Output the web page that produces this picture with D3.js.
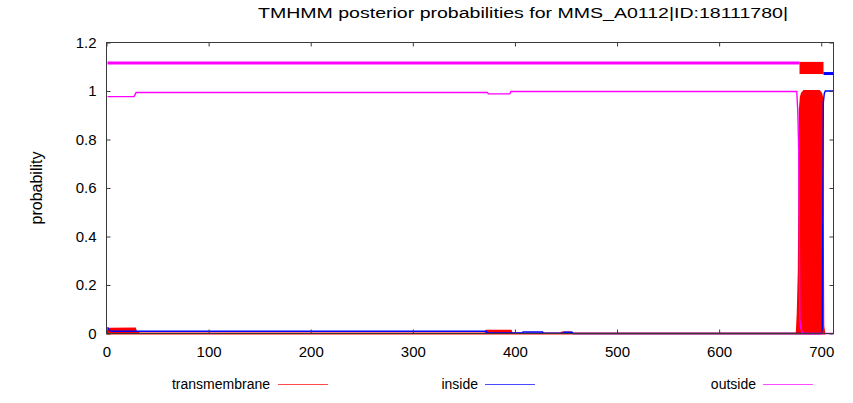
<!DOCTYPE html>
<html>
<head>
<meta charset="utf-8">
<script src="https://cdn.jsdelivr.net/npm/d3@7"></script>
<style>
  html, body { margin: 0; padding: 0; background: #fff; }
  svg { display: block; }
  text { font-family: "Liberation Sans", Arial, sans-serif; fill: #000; }
</style>
</head>
<body>
<svg id="chart" width="853" height="403"></svg>
<script>
// Posterior probabilities per residue, as [residue, probability] breakpoints
const transmembrane = [
  [1, 0], [2, 0.02], [28, 0.021], [29, 0.006], [31, 0.004], [32, 0],
  [371, 0], [372, 0.011], [396, 0.011], [397, 0],
  [445, 0], [446, 0.004], [455, 0.004], [456, 0],
  [676, 0], [677, 0.085], [678, 0.26], [679, 0.92], [680, 0.975], [681, 0.99],
  [683, 1.0], [698, 1.0], [700, 0.99], [701, 0.97], [702, 0.03], [703, 0]
];
const inside = [
  [1, 0.025], [3, 0.012], [5, 0.009], [372, 0.009], [373, 0.002],
  [407, 0.002], [408, 0.006], [427, 0.006], [428, 0.001],
  [447, 0.001], [448, 0.005], [456, 0.005], [457, 0],
  [700, 0], [701, 0.02], [702, 0.95], [703, 0.99], [704, 1.0], [712, 1.0]
];
const outside = [
  [1, 0.977], [27, 0.977], [29, 0.994], [373, 0.994], [374, 0.988],
  [395, 0.988], [396, 0.998], [676, 0.998], [677, 0.92], [678, 0.74],
  [679, 0.06], [680, 0.02], [682, 0], [712, 0]
];

// Predicted topology segments: [start, end]
const topoOutside = [[1, 678.7]];
const topoTM = [[678.7, 702.2]];
const topoInside = [[702.2, 712]];
const topoLevels = { outside: 1.115, tmLow: 1.07, tmHigh: 1.12, inside: 1.072 };

const xTicks = [0, 100, 200, 300, 400, 500, 600, 700];
const yTicks = [0, 0.2, 0.4, 0.6, 0.8, 1, 1.2];
const seqLength = 712;

const titleText = "TMHMM posterior probabilities for MMS_A0112|ID:18111780|";
const legendItems = [
  { label: "transmembrane", color: "#ff0000" },
  { label: "inside", color: "#0000ff" },
  { label: "outside", color: "#ff00ff" }
];

const svg = d3.select("#chart");
const x = d3.scaleLinear().domain([0, seqLength]).range([106.5, 833.5]);
const y = d3.scaleLinear().domain([0, 1.2]).range([333.5, 42.5]);

const plot = svg.append("g");

// transmembrane probability, filled like dense impulses
const area = d3.area().x(d => x(d[0])).y0(y(0)).y1(d => y(d[1]));
plot.append("path")
  .datum(transmembrane)
  .attr("d", area)
  .attr("fill", "#ff0000")
  .attr("stroke", "#ff0000")
  .attr("stroke-width", 2)
  .attr("stroke-linejoin", "miter");

const line = d3.line().x(d => x(d[0])).y(d => y(d[1]));
plot.append("path").datum(inside).attr("d", line)
  .attr("fill", "none").attr("stroke", "#0000ff").attr("stroke-width", 1.4);
plot.append("path").datum(outside).attr("d", line)
  .attr("fill", "none").attr("stroke", "#ff00ff").attr("stroke-width", 1.4);

// topology bars
plot.selectAll(".topo-out").data(topoOutside).join("line")
  .attr("x1", d => x(d[0])).attr("x2", d => x(d[1]))
  .attr("y1", y(topoLevels.outside)).attr("y2", y(topoLevels.outside))
  .attr("stroke", "#ff00ff").attr("stroke-width", 3);
plot.selectAll(".topo-tm").data(topoTM).join("rect")
  .attr("x", d => x(d[0])).attr("width", d => x(d[1]) - x(d[0]))
  .attr("y", y(topoLevels.tmHigh)).attr("height", y(topoLevels.tmLow) - y(topoLevels.tmHigh))
  .attr("fill", "#ff0000");
plot.selectAll(".topo-in").data(topoInside).join("line")
  .attr("x1", d => x(d[0])).attr("x2", d => x(d[1]))
  .attr("y1", y(topoLevels.inside)).attr("y2", y(topoLevels.inside))
  .attr("stroke", "#0000ff").attr("stroke-width", 3);

// frame
const frameColor = "#3a3a3a";
svg.append("rect")
  .attr("x", x(0)).attr("y", y(1.2))
  .attr("width", x(seqLength) - x(0)).attr("height", y(0) - y(1.2))
  .attr("fill", "none").attr("stroke", frameColor).attr("stroke-width", 1);

// axes with inward ticks, mirrored on the opposite side
const tickLen = 4;
svg.append("g").attr("transform", `translate(0,${y(0)})`)
  .call(d3.axisBottom(x).tickValues(xTicks).tickSizeInner(-tickLen).tickSizeOuter(0).tickPadding(13))
  .call(g => g.select(".domain").remove())
  .call(g => g.selectAll("line").attr("stroke", frameColor))
  .call(g => g.selectAll("text").attr("font-size", 15).attr("font-family", "Liberation Sans, Arial, sans-serif").attr("fill", "#000"));
svg.append("g").attr("transform", `translate(0,${y(1.2)})`)
  .call(d3.axisTop(x).tickValues(xTicks).tickSizeInner(-tickLen).tickSizeOuter(0).tickFormat(""))
  .call(g => g.select(".domain").remove())
  .call(g => g.selectAll("line").attr("stroke", frameColor));
svg.append("g").attr("transform", `translate(${x(0)},0)`)
  .call(d3.axisLeft(y).tickValues(yTicks).tickSizeInner(-tickLen).tickSizeOuter(0).tickPadding(10).tickFormat(d3.format("~g")))
  .call(g => g.select(".domain").remove())
  .call(g => g.selectAll("line").attr("stroke", frameColor))
  .call(g => g.selectAll("text").attr("font-size", 15).attr("font-family", "Liberation Sans, Arial, sans-serif").attr("fill", "#000"));
svg.append("g").attr("transform", `translate(${x(seqLength)},0)`)
  .call(d3.axisRight(y).tickValues(yTicks).tickSizeInner(-tickLen).tickSizeOuter(0).tickFormat(""))
  .call(g => g.select(".domain").remove())
  .call(g => g.selectAll("line").attr("stroke", frameColor));

// title and axis label
svg.append("text")
  .attr("x", 258).attr("y", 18)
  .attr("font-size", 14)
  .attr("textLength", 530).attr("lengthAdjust", "spacingAndGlyphs")
  .text(titleText);
svg.append("text")
  .attr("transform", "translate(42,188) rotate(-90)")
  .attr("text-anchor", "middle").attr("font-size", 16)
  .text("probability");

// legend
const legendPos = [
  { textRight: 270, lineX: 278 },
  { textRight: 478, lineX: 485 },
  { textRight: 756, lineX: 763 }
];
const legendY = 384;
const lg = svg.append("g");
legendItems.forEach((item, i) => {
  const p = legendPos[i];
  lg.append("text").attr("x", p.textRight).attr("y", legendY + 5)
    .attr("text-anchor", "end").attr("font-size", 14).text(item.label);
  lg.append("line").attr("x1", p.lineX).attr("x2", p.lineX + 50)
    .attr("y1", legendY + 0.5).attr("y2", legendY + 0.5)
    .attr("stroke", item.color).attr("stroke-width", 1).attr("opacity", 0.7);
});
</script>
</body>
</html>
